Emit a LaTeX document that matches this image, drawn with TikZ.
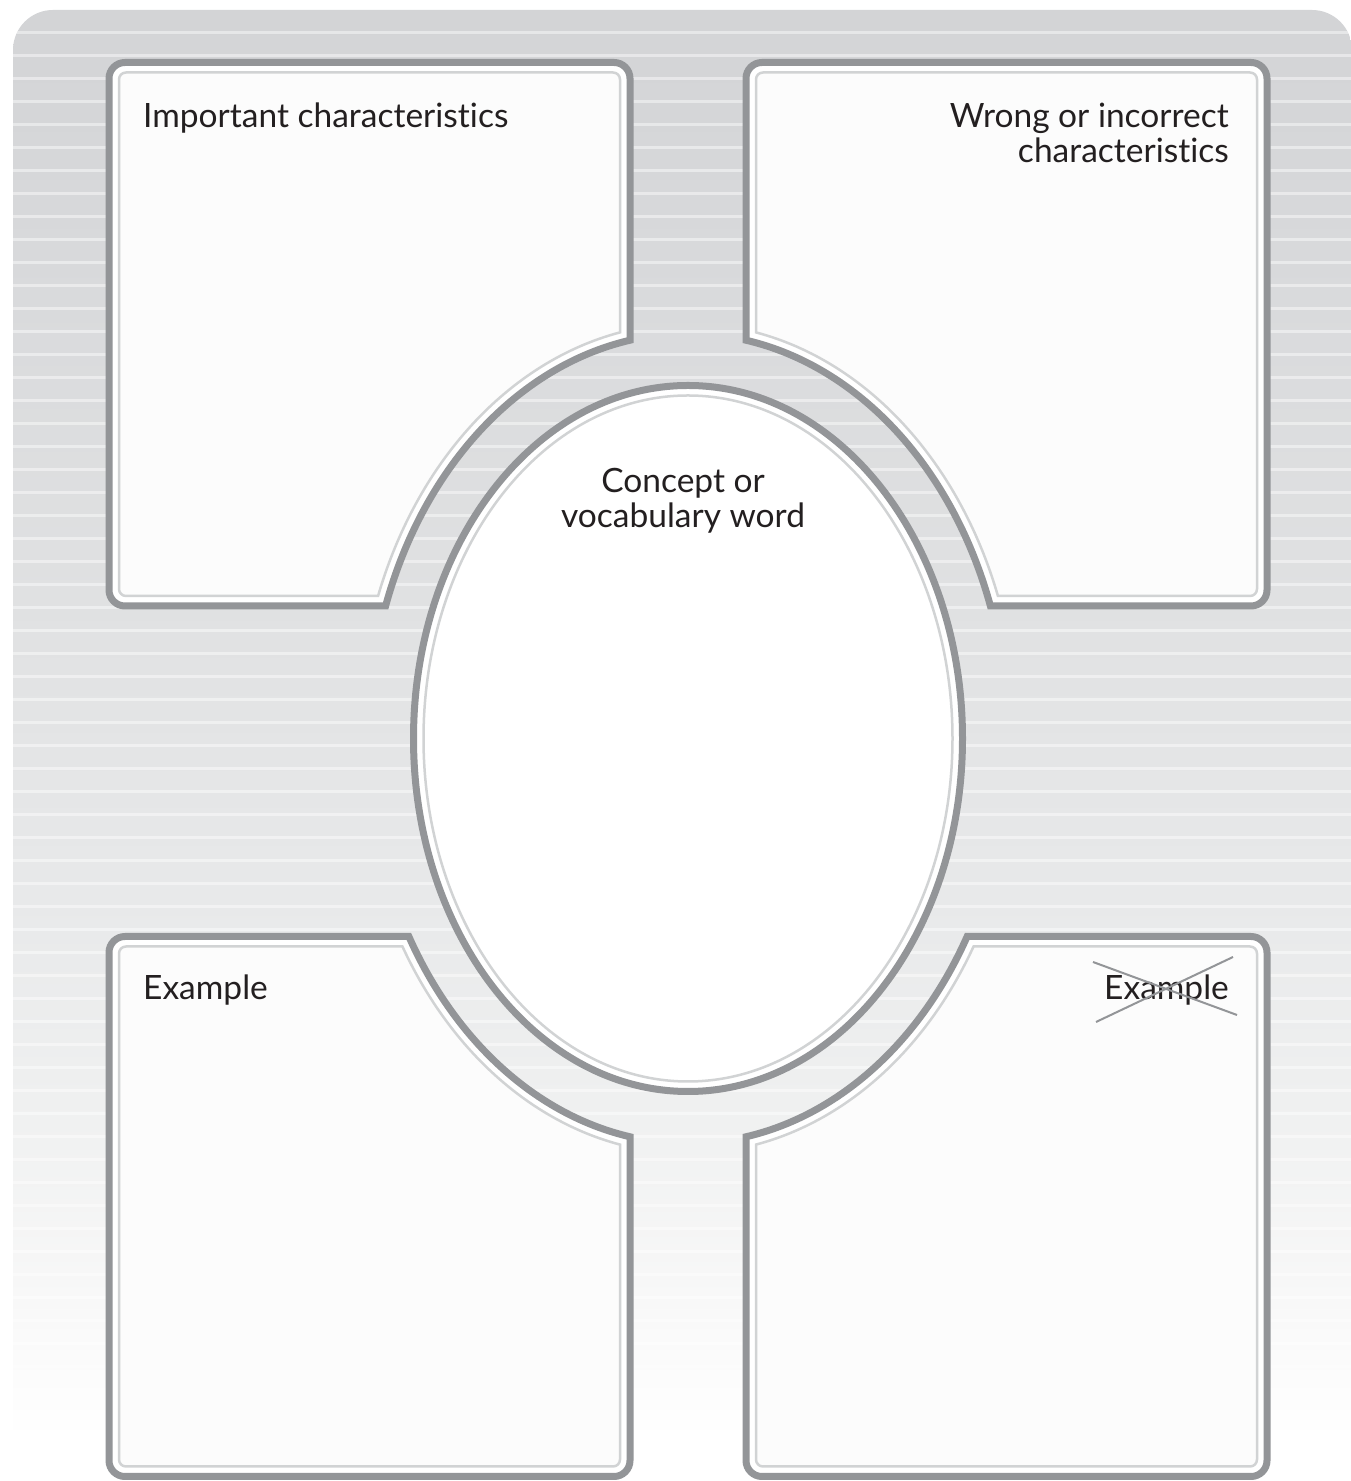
\documentclass[tikz,border=0pt]{standalone}
\usepackage{fontspec}
\setmainfont[Ligatures={NoCommon,NoDiscretionary,NoRare}]{Lato}
\definecolor{dk}{HTML}{939598}
\definecolor{lt}{HTML}{D1D3D4}
\definecolor{txt}{HTML}{231F20}
\definecolor{innerfill}{HTML}{FCFCFC}
\definecolor{bgA}{HTML}{D3D4D6}
\definecolor{bgB}{HTML}{D9DADC}
\definecolor{bgC}{HTML}{E0E1E2}
\definecolor{bgD}{HTML}{E8E9EA}
\definecolor{bgE}{HTML}{EFF0F0}
\definecolor{bgF}{HTML}{F8F8F8}
\pgfdeclareverticalshading{bgshade}{100bp}{color(0bp)=(white); color(26.4bp)=(white); color(31.2bp)=(bgF); color(38bp)=(bgE); color(44.7bp)=(bgD); color(54.9bp)=(bgC); color(65.1bp)=(bgB); color(75bp)=(bgA); color(100bp)=(bgA)}
% quadrant box path: #1 near x, #2 far x, #3 near y, #4 far y, #5 #6 cut radii, #7 corner radius, #8 style
\newcommand\qpath[8]{%
  \pgfmathsetmacro\qta{acos((#1)/(#5))}%
  \pgfmathsetmacro\qtb{180-asin((#3)/(#6))}%
  \pgfmathsetmacro\qya{(#6)*sin(\qta)}%
  \path[#8] (#1,\qya) arc[start angle=\qta, end angle=\qtb, x radius=#5, y radius=#6]
    -- ({#2+#7},#3) arc[start angle=270, end angle=180, radius=#7]
    -- (#2,{#4-#7}) arc[start angle=180, end angle=90, radius=#7]
    -- ({#1-#7},#4) arc[start angle=90, end angle=0, radius=#7] -- cycle;}
\newcommand\qbox[4]{%
  \qpath{#1}{#2}{#3}{#4}{320}{405}{16}{boxouter}%
  \pgfmathsetmacro\qia{#1-10}\pgfmathsetmacro\qib{#2+10}%
  \pgfmathsetmacro\qic{#3+10}\pgfmathsetmacro\qid{#4-10}%
  \qpath{\qia}{\qib}{\qic}{\qid}{330}{415}{7}{boxinner}}
\tikzset{
  boxouter/.style={fill=white, draw=dk, line width=7pt},
  boxinner/.style={fill=innerfill, draw=lt, line width=2.5pt},
  label/.style={text=txt, inner sep=0pt, font=\fontsize{33.5}{31.5}\selectfont},
  stripe/.style={white, opacity=0.45, line width=3pt},
  cross/.style={dk, line width=2pt}
}
\begin{document}
\begin{tikzpicture}[x=1pt,y=1pt]
\useasboundingbox (0,0) rectangle (1351,1481);
% background panel
\begin{scope}
  \path[rounded corners=40, clip] (13,-60) rectangle (1352,1471);
  \shade[shading=bgshade] (13,0) rectangle (1352,1471);
  \foreach \k in {0,...,63} {
    \draw[stripe] (13,{1481-33-23*\k}) -- (1352,{1481-33-23*\k});
  }
\end{scope}
% four boxes
\begin{scope}[shift={(688,742.5)}]
  \qbox{-58}{-579}{132.5}{676}
  \begin{scope}[xscale=-1]
    \qbox{-58}{-579}{132.5}{676}
  \end{scope}
  \begin{scope}[yscale=-1]
    \qbox{-58}{-579}{198}{738}
  \end{scope}
  \begin{scope}[xscale=-1, yscale=-1]
    \qbox{-58}{-579}{198}{738}
  \end{scope}
  % central ellipse
  \draw[dk, line width=7pt, fill=white] (0,0) ellipse [x radius=274.5, y radius=353];
  \draw[lt, line width=2.5pt] (0,0) ellipse [x radius=264.5, y radius=343];
\end{scope}
% labels
\node[label, anchor=base west] (imp) at (143,1353) {Important characteristics};
\node[label, anchor=base east] (wrong) at (1229,1353) {\begin{tabular}[t]{@{}r@{}}Wrong or incorrect\\characteristics\end{tabular}};
\node[label, anchor=base] (concept) at (683,988) {\begin{tabular}[t]{@{}c@{}}Concept or\\vocabulary word\end{tabular}};
\node[label, anchor=base west] (ex) at (143,481) {Example};
\node[label, anchor=base east] (nonex) at (1229,481) {Example};
\coordinate (c1) at (1093,519);
\coordinate (c2) at (1237,466);
\coordinate (c3) at (1096,459);
\coordinate (c4) at (1233,524);
\draw[cross] (c1) -- (c2);
\draw[cross] (c3) -- (c4);
\end{tikzpicture}
\end{document}
